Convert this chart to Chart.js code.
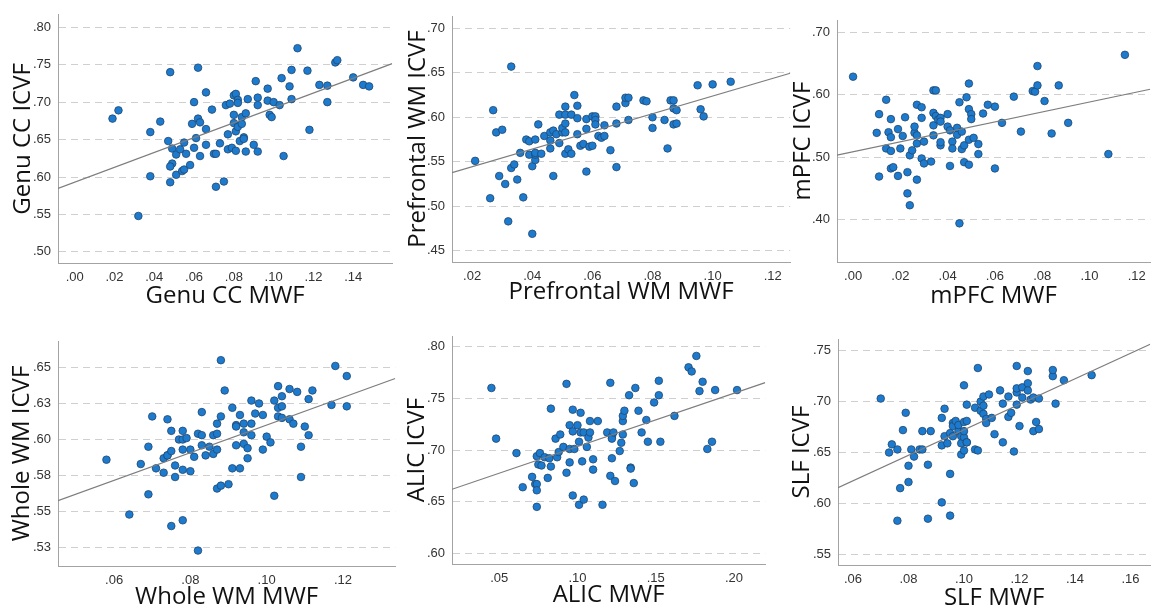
<!DOCTYPE html>
<html>
<head>
<meta charset="utf-8">
<script src="https://cdn.jsdelivr.net/npm/chart.js@4.4.1/dist/chart.umd.min.js"></script>
<style>
  body { margin: 0; background: #fff; width: 1155px; height: 613px; overflow: hidden; position: relative; }
  canvas { position: absolute; }
</style>
</head>
<body>
<canvas id="genu" width="397" height="313" style="left:0px;top:0px"></canvas>
<canvas id="pref" width="410" height="313" style="left:385px;top:0px"></canvas>
<canvas id="mpfc" width="385" height="313" style="left:770px;top:0px"></canvas>
<canvas id="whole" width="400" height="308" style="left:0px;top:305px"></canvas>
<canvas id="alic" width="385" height="308" style="left:385px;top:305px"></canvas>
<canvas id="slf" width="385" height="308" style="left:770px;top:305px"></canvas>
<script>
// values (MWF on x, ICVF on y)

const genuX = [.019,.022,.032,.038,.038,.043,.048,.047,.049,.049, .048,.048,.051,.051,.053,.054,.055,.055,.056,.058,
  .059,.060,.060,.061,.062,.062,.063,.063,.066,.066, .066,.069,.070,.071,.071,.073,.075,.076,.077,.077,
  .078,.079,.080,.080,.080,.081,.081,.081,.082,.082, .082,.083,.084,.084,.085,.085,.086,.086,.087,.090,
  .091,.092,.092,.092,.097,.097,.098,.099,.100,.103, .104,.105,.108,.109,.109,.112,.117,.118,.123,.127,
  .127,.131,.132,.140,.145,.148];
const genuY = [.678,.689,.548,.601,.660,.674,.740,.648,.638,.618, .614,.593,.630,.603,.637,.608,.610,.646,.631,.616,
  .671,.700,.639,.652,.746,.678,.673,.628,.713,.664, .643,.690,.631,.631,.587,.645,.594,.696,.657,.637,
  .698,.639,.709,.683,.672,.635,.661,.711,.667,.703, .699,.648,.680,.671,.653,.651,.685,.634,.704,.643,
  .728,.696,.706,.634,.718,.702,.683,.680,.700,.696, .732,.628,.721,.743,.704,.772,.742,.663,.723,.700,
  .722,.753,.756,.733,.723,.721];

const prefX = [.021,.026,.027,.028,.029,.030,.031,.032,.033,.033, .034,.035,.036,.037,.038,.039,.039,.040,.040,.041,
  .041,.041,.041,.042,.043,.044,.046,.046,.046,.047, .047,.048,.049,.049,.050,.050,.051,.051,.051,.051,
  .051,.052,.053,.053,.054,.055,.055,.055,.056,.057, .058,.058,.058,.059,.060,.060,.061,.061,.061,.062,
  .063,.064,.064,.066,.068,.068,.068,.071,.071,.072, .072,.077,.078,.080,.080,.084,.085,.086,.087,.087,
  .087,.088,.088,.095,.096,.097,.100,.106];
const prefY = [.551,.509,.608,.583,.534,.586,.525,.483,.543,.657, .547,.530,.560,.510,.575,.558,.573,.545,.469,.552,
  .558,.575,.560,.592,.559,.579,.583,.565,.574,.585, .534,.581,.603,.571,.583,.588,.593,.612,.603,.583,
  .559,.564,.603,.559,.625,.613,.599,.581,.568,.570, .539,.587,.598,.567,.568,.601,.601,.597,.592,.579,
  .577,.591,.579,.563,.612,.593,.544,.616,.622,.622, .597,.619,.618,.600,.588,.597,.565,.619,.619,.610,
  .592,.608,.593,.636,.609,.601,.637,.640];

const mpfcX = [.000,.010,.011,.011,.014,.014,.015,.016,.016,.016, .016,.017,.019,.020,.019,.021,.022,.023,.023,.024,
  .024,.025,.026,.026,.027,.027,.027,.027,.029,.029, .029,.030,.030,.033,.034,.034,.034,.034,.035,.035,
  .036,.037,.037,.037,.037,.040,.040,.041,.041,.042, .042,.044,.044,.045,.045,.046,.046,.047,.047,.048,
  .049,.049,.049,.049,.050,.050,.051,.053,.053,.055, .057,.060,.060,.063,.068,.071,.076,.077,.078,.078,
  .081,.084,.087,.091,.108,.115];
const mpfcY = [.629,.539,.469,.569,.592,.514,.540,.510,.561,.532, .482,.484,.545,.514,.470,.534,.564,.476,.442,.423,
  .503,.511,.539,.549,.535,.522,.584,.464,.580,.498, .563,.525,.490,.493,.551,.571,.607,.535,.566,.607,
  .560,.563,.519,.524,.557,.569,.549,.486,.543,.525, .514,.536,.547,.588,.394,.541,.513,.492,.519,.596,
  .618,.528,.488,.577,.569,.561,.531,.521,.505,.570, .584,.581,.482,.555,.597,.541,.606,.605,.615,.646,
  .590,.538,.615,.555,.505,.664];

const wholeX = [.058,.064,.067,.069,.069,.070,.071,.073,.073,.074, .074,.074,.075,.075,.075,.076,.076,.077,.078,.078,
  .078,.078,.078,.079,.080,.080,.081,.082,.082,.083, .083,.083,.084,.085,.086,.086,.087,.087,.087,.087,
  .088,.088,.088,.089,.090,.091,.091,.092,.092,.092, .093,.093,.094,.094,.094,.095,.095,.096,.096,.096,
  .097,.098,.099,.099,.100,.101,.102,.102,.103,.103, .103,.104,.104,.104,.106,.106,.107,.108,.109,.109,
  .110,.111,.111,.112,.117,.118,.121,.121];
const wholeY = [.586,.548,.583,.595,.562,.616,.580,.577,.587,.589, .589,.614,.540,.606,.592,.574,.582,.600,.600,.606,
  .579,.593,.544,.601,.578,.593,.588,.604,.523,.603, .596,.619,.589,.595,.590,.603,.593,.604,.566,.611,
  .616,.568,.655,.634,.569,.622,.580,.610,.596,.609, .617,.580,.605,.611,.597,.587,.594,.611,.603,.627,
  .618,.625,.593,.617,.602,.598,.627,.561,.616,.637, .622,.630,.623,.615,.635,.614,.611,.633,.574,.595,
  .609,.603,.628,.634,.624,.651,.623,.644];

const alicX = [.045,.048,.061,.065,.071,.073,.074,.074,.074,.074, .075,.076,.077,.079,.081,.082,.083,.083,.086,.087,
  .088,.089,.091,.093,.093,.095,.095,.095,.097,.097, .097,.098,.100,.101,.101,.102,.102,.103,.104,.104,
  .106,.107,.108,.108,.110,.110,.113,.116,.119,.121, .121,.122,.122,.122,.123,.124,.127,.128,.129,.129,
  .129,.130,.133,.134,.134,.136,.137,.139,.141,.144, .145,.149,.152,.152,.153,.162,.171,.173,.176,.178,
  .180,.183,.186,.188,.202];
const alicY = [.760,.711,.697,.664,.674,.667,.667,.661,.645,.694, .686,.697,.685,.693,.673,.692,.684,.740,.711,.693,
  .698,.715,.703,.678,.764,.688,.701,.724,.656,.739, .718,.701,.724,.647,.708,.736,.717,.689,.652,.717,
  .703,.712,.717,.728,.691,.681,.728,.647,.717,.765, .675,.713,.711,.692,.717,.670,.699,.707,.715,.728,
  .733,.738,.753,.683,.682,.668,.760,.738,.717,.729, .708,.746,.753,.767,.708,.733,.780,.776,.791,.757,
  .766,.701,.708,.758,.758];

const slfX = [.070,.073,.074,.076,.077,.076,.078,.079,.080,.080, .081,.082,.084,.085,.085,.087,.087,.088,.092,.092,
  .092,.093,.093,.094,.095,.095,.095,.096,.096,.096, .097,.098,.098,.099,.099,.099,.100,.100,.100,.100,
  .100,.101,.101,.101,.101,.104,.104,.105,.105,.106, .106,.107,.107,.107,.108,.108,.109,.110,.111,.113,
  .114,.114,.116,.116,.117,.118,.119,.119,.119,.119, .120,.121,.121,.123,.123,.123,.124,.125,.125,.126,
  .127,.127,.132,.132,.133,.136,.146];
const slfY = [.703,.650,.658,.653,.615,.583,.672,.689,.637,.621, .653,.646,.653,.653,.671,.638,.585,.671,.657,.684,
  .601,.693,.666,.659,.629,.669,.588,.679,.666,.676, .681,.671,.677,.666,.648,.659,.665,.680,.716,.671,
  .652,.660,.697,.681,.660,.653,.694,.652,.733,.700, .691,.688,.696,.705,.683,.679,.707,.684,.668,.711,
  .660,.698,.685,.705,.689,.651,.735,.697,.709,.713, .676,.714,.704,.730,.718,.711,.702,.704,.671,.680,
  .703,.673,.725,.731,.698,.721,.726];

// tick values shown on each axis
const genuXTicks = [0, .02, .04, .06, .08, .10, .12, .14];
const genuYTicks = [.50, .55, .60, .65, .70, .75, .80];
const prefXTicks = [.02, .04, .06, .08, .10, .12];
const prefYTicks = [.45, .50, .55, .60, .65, .70];
const mpfcXTicks = [0, .02, .04, .06, .08, .10, .12];
const mpfcYTicks = [.40, .50, .60, .70];
const wholeXTicks = [.06, .08, .10, .12];
const wholeYTicks = [.525, .55, .575, .60, .625, .65];
const alicXTicks = [.05, .10, .15, .20];
const alicYTicks = [.60, .65, .70, .75, .80];
const slfXTicks = [.06, .08, .10, .12, .14, .16];
const slfYTicks = [.55, .60, .65, .70, .75];

// SPSS style labels: two decimals, no leading zero
function fmt(v) {
    const r = Math.round(Math.round(v * 1000) / 10) / 100;
    return r.toFixed(2).replace(/^0/, '');
}

// least squares line over the visible x range
function fitLine(xs, ys, x0, x1) {
    let n = xs.length, sx = 0, sy = 0, sxx = 0, sxy = 0;
    for (let i = 0; i < n; i++) {
        sx += xs[i]; sy += ys[i];
        sxx += xs[i] * xs[i]; sxy += xs[i] * ys[i];
    }
    const b = (n * sxy - sx * sy) / (n * sxx - sx * sx);
    const a = (sy - b * sx) / n;
    return [{x: x0, y: a + b * x0}, {x: x1, y: a + b * x1}];
}

const tickFont = {family: "'Liberation Sans', Arial, sans-serif", size: 13};
const titleFont = {family: "'Open Sans', sans-serif", size: 24, lineHeight: 1.2};

function makePanel(p) {
    const pts = p.xs.map((x, i) => ({x: x, y: p.ys[i]}));
    new Chart(document.getElementById(p.id), {
        type: 'scatter',
        data: {
            datasets: [
                {
                    type: 'line',
                    data: fitLine(p.xs, p.ys, p.xMin, p.xMax),
                    borderColor: '#7d7d7d',
                    borderWidth: 1.2,
                    pointRadius: 0,
                    order: 0
                },
                {
                    data: pts,
                    backgroundColor: '#1c7bcf',
                    borderColor: '#22466c',
                    borderWidth: 0.8,
                    pointRadius: 3.8,
                    order: 1
                }
            ]
        },
        options: {
            responsive: false,
            animation: false,
            devicePixelRatio: 1,
            layout: {padding: {top: p.padTop, left: 0, right: 0, bottom: 0}},
            plugins: {legend: {display: false}, tooltip: {enabled: false}},
            scales: {
                x: {
                    type: 'linear',
                    min: p.xMin, max: p.xMax,
                    afterBuildTicks: s => { s.ticks = p.xTicks.map(v => ({value: v})); },
                    afterFit: s => { s.height = p.xH; },
                    grid: {display: false, drawTicks: false},
                    border: {display: true, color: '#a3a3a3', width: 1},
                    ticks: {
                        padding: 7, color: '#333', font: tickFont,
                        autoSkip: false, maxRotation: 0,
                        callback: v => fmt(v)
                    },
                    title: {
                        display: true, text: p.xTitle, color: '#111', font: titleFont,
                        padding: {top: 0, bottom: p.xtPad}
                    }
                },
                y: {
                    type: 'linear',
                    min: p.yMin, max: p.yMax,
                    afterBuildTicks: s => { s.ticks = p.yTicks.map(v => ({value: v})); },
                    afterFit: s => { s.width = p.yW; },
                    grid: {display: true, drawTicks: false, color: '#cfcfcf', lineWidth: 1},
                    border: {display: true, color: '#a3a3a3', width: 1, dash: [7, 5]},
                    ticks: {
                        padding: 7, color: '#333', font: tickFont,
                        autoSkip: false,
                        callback: v => fmt(v)
                    },
                    title: {
                        display: true, text: p.yTitle, color: '#111', font: titleFont,
                        padding: {top: p.ytPad, bottom: 0}
                    }
                }
            }
        }
    });
}

makePanel({id: 'genu', xs: genuX, ys: genuY, xTicks: genuXTicks, yTicks: genuYTicks,
    xMin: -.0084, xMax: .1596, yMin: .4852, yMax: .8166,
    xTitle: 'Genu CC MWF', yTitle: 'Genu CC ICVF',
    padTop: 10, yW: 58, xH: 50, ytPad: 9, xtPad: 2});

makePanel({id: 'pref', xs: prefX, ys: prefY, xTicks: prefXTicks, yTicks: prefYTicks,
    xMin: .0133, xMax: .1258, yMin: .4373, yMax: .7139,
    xTitle: 'Prefrontal WM MWF', yTitle: 'Prefrontal WM ICVF',
    padTop: 16, yW: 67, xH: 51, ytPad: 19, xtPad: 6});

makePanel({id: 'mpfc', xs: mpfcX, ys: mpfcY, xTicks: mpfcXTicks, yTicks: mpfcYTicks,
    xMin: -.0068, xMax: .1257, yMin: .3321, yMax: .7198,
    xTitle: 'mPFC MWF', yTitle: 'mPFC ICVF',
    padTop: 20, yW: 67, xH: 51, ytPad: 19, xtPad: 2});

makePanel({id: 'whole', xs: wholeX, ys: wholeY, xTicks: wholeXTicks, yTicks: wholeYTicks,
    xMin: .0453, xMax: .1337, yMin: .5123, yMax: .6683,
    xTitle: 'Whole WM MWF', yTitle: 'Whole WM ICVF',
    padTop: 36, yW: 58, xH: 47, ytPad: 8, xtPad: 1});

makePanel({id: 'alic', xs: alicX, ys: alicY, xTicks: alicXTicks, yTicks: alicYTicks,
    xMin: .0198, xMax: .2200, yMin: .5897, yMax: .8103,
    xTitle: 'ALIC MWF', yTitle: 'ALIC ICVF',
    padTop: 31, yW: 67, xH: 49, ytPad: 18, xtPad: 3});

makePanel({id: 'slf', xs: slfX, ys: slfY, xTicks: slfXTicks, yTicks: slfYTicks,
    xMin: .0546, xMax: .1671, yMin: .5395, yMax: .7615,
    xTitle: 'SLF MWF', yTitle: 'SLF ICVF',
    padTop: 34, yW: 68, xH: 48, ytPad: 18, xtPad: 0});
</script>
</body>
</html>
